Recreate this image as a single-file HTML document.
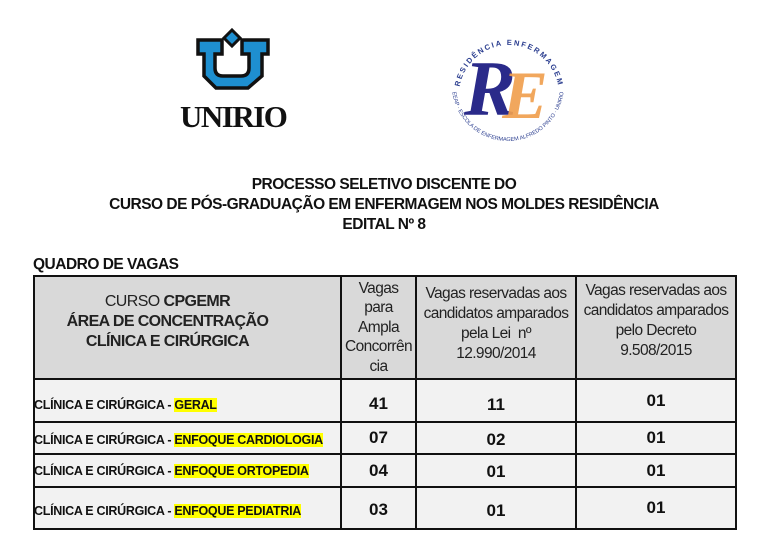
<!DOCTYPE html>
<html><head><meta charset="utf-8">
<style>
body{margin:0;width:768px;height:549px;background:#fff;position:relative;overflow:hidden;font-family:"Liberation Sans",Arial,sans-serif;color:#111}
.a{position:absolute;white-space:nowrap}
.t{left:0;width:768px;text-align:center;font-weight:bold;font-size:15.5px;letter-spacing:-0.5px}
.c{position:absolute;display:flex;align-items:center;justify-content:center;text-align:center;box-sizing:border-box}
.h{font-size:15.5px;line-height:20px;letter-spacing:-0.6px;color:#222}
.r{font-size:12.5px;font-weight:bold;letter-spacing:-0.3px;justify-content:flex-start;padding-left:0}
.n{font-size:17px;font-weight:bold;letter-spacing:0}
.y{background:#ffff00}
.hl{position:absolute;background:#111}
</style></head><body>
<svg class="a" style="left:0;top:0" width="768" height="160" viewBox="0 0 768 160">
 <path d="M232 30 L240 38 L232 46 L224 38 Z" fill="#1e8fd0" stroke="#111" stroke-width="3"/>
 <path d="M198 40 H222 V54 H215 V68 Q215 76 223 76 H241 Q249 76 249 68 V54 H242 V40 H268 V54 H262 V76 L248 88 H216 L204 76 V54 H198 Z" fill="#1e8fd0" stroke="#111" stroke-width="3.5"/>
 <text x="180" y="127" font-family="Liberation Serif" font-weight="bold" font-size="31" letter-spacing="-1.5" fill="#111">UNIRIO</text>
 <defs>
  <path id="top" d="M459 95 A50 50 0 0 1 559 95"/>
  <path id="bot" d="M452 85 A56 56 0 0 0 564 85"/>
 </defs>
 <text font-size="7.5" font-weight="bold" fill="#2a3d8f" letter-spacing="1.8" text-anchor="middle"><textPath href="#top" startOffset="50%">RESIDÊNCIA ENFERMAGEM</textPath></text>
 <text font-size="5.5" fill="#2a3d8f" text-anchor="middle"><textPath href="#bot" startOffset="50%">EEAP · ESCOLA DE ENFERMAGEM ALFREDO PINTO · UNIRIO</textPath></text>
 <text x="490" y="115" font-family="Liberation Serif" font-weight="bold" font-style="italic" font-size="78" fill="#2a2a8a" text-anchor="middle">R</text>
 <text x="525" y="118" font-family="Liberation Serif" font-weight="bold" font-style="italic" font-size="68" fill="#f0a050" text-anchor="middle" opacity="0.92">E</text>
</svg>
<div class="a t" style="top:176px">PROCESSO SELETIVO DISCENTE DO</div>
<div class="a t" style="top:196px">CURSO DE PÓS-GRADUAÇÃO EM ENFERMAGEM NOS MOLDES RESIDÊNCIA</div>
<div class="a t" style="top:216px">EDITAL Nº 8</div>
<div class="a" style="left:33px;top:256px;font-weight:bold;font-size:15.5px;letter-spacing:-0.5px">QUADRO DE VAGAS</div>

<div class="a" style="left:33px;top:275px;width:703px;height:104px;background:#d9d9d9"></div>
<div class="a" style="left:33px;top:379px;width:703px;height:150px;background:#f2f2f2"></div>
<div class="hl" style="left:33px;top:275px;width:704px;height:2px"></div>
<div class="hl" style="left:33px;top:378px;width:704px;height:2px"></div>
<div class="hl" style="left:33px;top:421px;width:704px;height:2px"></div>
<div class="hl" style="left:33px;top:453px;width:704px;height:2px"></div>
<div class="hl" style="left:33px;top:486px;width:704px;height:2px"></div>
<div class="hl" style="left:33px;top:528px;width:704px;height:2px"></div>
<div class="hl" style="left:33px;top:275px;width:2px;height:255px"></div>
<div class="hl" style="left:340px;top:275px;width:2px;height:255px"></div>
<div class="hl" style="left:415px;top:275px;width:2px;height:255px"></div>
<div class="hl" style="left:575px;top:275px;width:2px;height:255px"></div>
<div class="hl" style="left:735px;top:275px;width:2px;height:255px"></div>

<div class="c h" style="left:35px;top:277px;width:305px;height:101px;font-size:16px;line-height:20px;padding-right:40px;padding-bottom:12px"><div>CURSO <b>CPGEMR</b><br><b>ÁREA DE CONCENTRAÇÃO<br>CLÍNICA E CIRÚRGICA</b></div></div>
<div class="c h" style="left:342px;top:277px;width:73px;height:101px;line-height:19.5px"><div>Vagas<br>para<br>Ampla<br>Concorrên<br>cia</div></div>
<div class="c h" style="left:417px;top:277px;width:158px;height:101px;padding-bottom:8px"><div>Vagas reservadas aos<br>candidatos amparados<br>pela Lei&nbsp; nº<br>12.990/2014</div></div>
<div class="c h" style="left:577px;top:277px;width:158px;height:101px;padding-bottom:14px"><div>Vagas reservadas aos<br>candidatos amparados<br>pelo Decreto<br>9.508/2015</div></div>

<div class="c r" style="left:34px;top:380px;width:305px;height:41px;padding-top:8px">CLÍNICA E CIRÚRGICA -&nbsp;<span class="y">GERAL</span></div>
<div class="c r" style="left:34px;top:423px;width:305px;height:30px;padding-top:4px">CLÍNICA E CIRÚRGICA -&nbsp;<span class="y">ENFOQUE CARDIOLOGIA</span></div>
<div class="c r" style="left:34px;top:455px;width:305px;height:31px">CLÍNICA E CIRÚRGICA -&nbsp;<span class="y">ENFOQUE ORTOPEDIA</span></div>
<div class="c r" style="left:34px;top:488px;width:305px;height:40px;padding-top:6px">CLÍNICA E CIRÚRGICA -&nbsp;<span class="y">ENFOQUE PEDIATRIA</span></div>

<div class="c n" style="left:342px;top:380px;width:73px;height:41px;padding-top:6px">41</div>
<div class="c n" style="left:342px;top:423px;width:73px;height:30px">07</div>
<div class="c n" style="left:342px;top:455px;width:73px;height:31px">04</div>
<div class="c n" style="left:342px;top:488px;width:73px;height:40px;padding-top:4px">03</div>

<div class="c n" style="left:417px;top:380px;width:158px;height:41px;padding-top:8px">11</div>
<div class="c n" style="left:417px;top:423px;width:158px;height:30px;padding-top:4px">02</div>
<div class="c n" style="left:417px;top:455px;width:158px;height:31px;padding-top:2px">01</div>
<div class="c n" style="left:417px;top:488px;width:158px;height:40px;padding-top:6px">01</div>

<div class="c n" style="left:577px;top:380px;width:158px;height:41px">01</div>
<div class="c n" style="left:577px;top:423px;width:158px;height:30px">01</div>
<div class="c n" style="left:577px;top:455px;width:158px;height:31px">01</div>
<div class="c n" style="left:577px;top:488px;width:158px;height:40px">01</div>
</body></html>
